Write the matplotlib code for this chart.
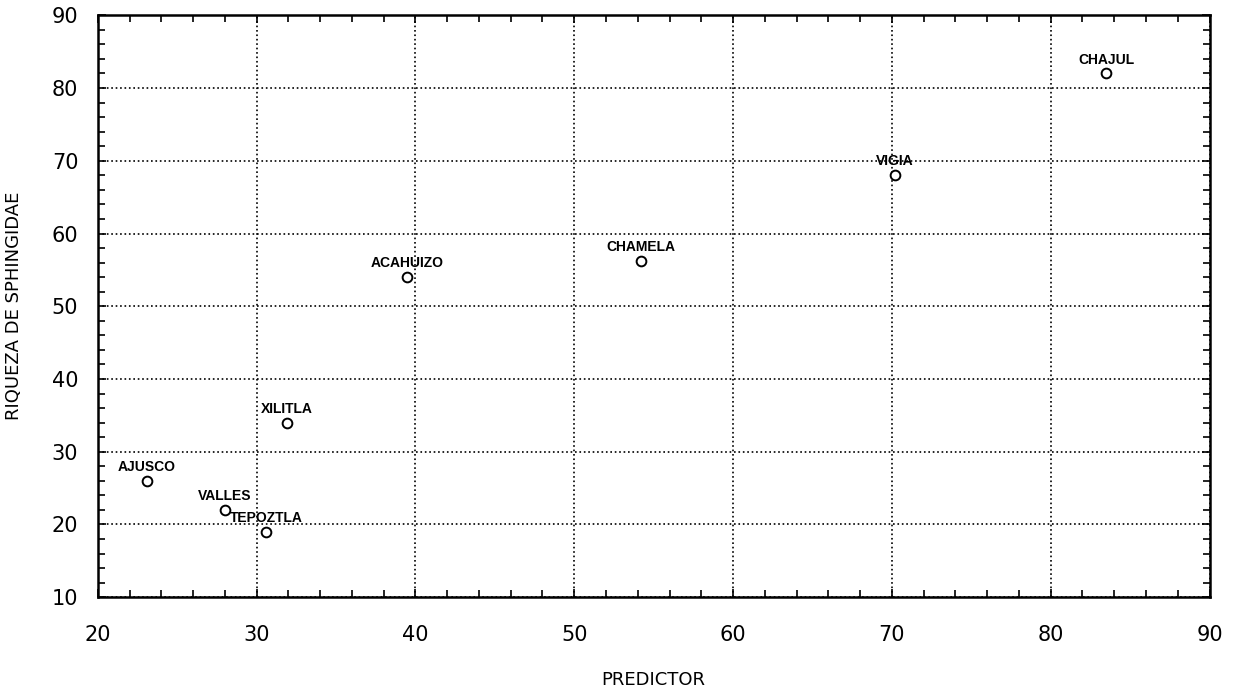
import matplotlib.pyplot as plt
from matplotlib.ticker import MultipleLocator

# sitios y valores
sitios = ['AJUSCO', 'VALLES', 'TEPOZTLA', 'XILITLA', 'ACAHUIZO',
          'CHAMELA', 'VIGIA', 'CHAJUL']
predictor = [23.1, 28.0, 30.6, 31.9, 39.5, 54.2, 70.2, 83.5]
riqueza = [26.0, 22.0, 18.9, 34.0, 54.0, 56.2, 68.1, 82.0]

plt.rcParams['font.family'] = ['DejaVu Sans']

fig = plt.figure(figsize=(12.38, 6.96), dpi=100)
ax = fig.add_axes([0.079, 0.142, 0.898, 0.836])

ax.plot(predictor, riqueza, linestyle='none', marker='o', markersize=7,
        markerfacecolor='white', markeredgecolor='black', markeredgewidth=1.4)

for nombre, x, y in zip(sitios, predictor, riqueza):
    ax.annotate(nombre, (x, y), xytext=(0, 5), textcoords='offset points',
                ha='center', va='bottom', fontsize=10, fontweight='bold',
                family='Liberation Sans')

ax.set_xlim(20, 90)
ax.set_ylim(10, 90)
ax.xaxis.set_major_locator(MultipleLocator(10))
ax.yaxis.set_major_locator(MultipleLocator(10))
ax.xaxis.set_minor_locator(MultipleLocator(2))
ax.yaxis.set_minor_locator(MultipleLocator(2))
ax.grid(True, which='major', linestyle=':', color='black', linewidth=1.2)

ax.tick_params(which='both', direction='in', top=True, right=True,
               color='black', width=1.2)
ax.tick_params(which='major', length=6, labelsize=15, pad=14)
ax.tick_params(which='minor', length=5)
ax.tick_params(axis='x', pad=20)

for s in ax.spines.values():
    s.set_linewidth(1.8)

ax.set_xlabel('PREDICTOR', fontsize=13)
ax.set_ylabel('RIQUEZA DE SPHINGIDAE', fontsize=13)
ax.xaxis.set_label_coords(0.5, -0.143)
ax.yaxis.set_label_coords(-0.075, 0.5)
ax.xaxis.label.set_va('center')
ax.yaxis.label.set_va('center')

fig.savefig('out.png', dpi=100, facecolor='white')
